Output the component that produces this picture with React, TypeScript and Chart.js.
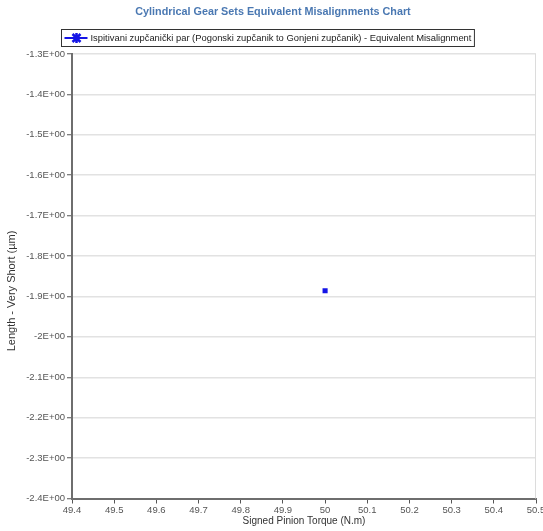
import React, { useEffect, useRef } from "react";
import { Chart, registerables } from "chart.js";

Chart.register(...registerables);

const chartTitle = "Cylindrical Gear Sets Equivalent Misalignments Chart";
const seriesLabel =
  "Ispitivani zupčanički par (Pogonski zupčanik to Gonjeni zupčanik) - Equivalent Misalignment";
const xAxisTitle = "Signed Pinion Torque (N.m)";
const yAxisTitle = "Length - Very Short (µm)";

const seriesX = [50.0];
const seriesY = [-1.886];

const xTickValues = [49.4, 49.5, 49.6, 49.7, 49.8, 49.9, 50.0, 50.1, 50.2, 50.3, 50.4, 50.5];
const xTickLabels = ["49.4", "49.5", "49.6", "49.7", "49.8", "49.9", "50", "50.1", "50.2", "50.3", "50.4", "50.5"];
const yTickValues = [-1.3, -1.4, -1.5, -1.6, -1.7, -1.8, -1.9, -2.0, -2.1, -2.2, -2.3, -2.4];
const yTickLabels = [
  "-1.3E+00", "-1.4E+00", "-1.5E+00", "-1.6E+00", "-1.7E+00", "-1.8E+00",
  "-1.9E+00", "-2E+00", "-2.1E+00", "-2.2E+00", "-2.3E+00", "-2.4E+00",
];

const FONT = "'Liberation Sans', Arial, sans-serif";
const BLUE = "#1414e6";

function labelFor(values: number[], labels: string[], v: number) {
  let best = 0;
  for (let i = 0; i < values.length; i++) {
    if (Math.abs(values[i] - v) < Math.abs(values[best] - v)) best = i;
  }
  return labels[best];
}

const decorPlugin = {
  id: "decor",
  afterDraw(chart: any) {
    const ctx = chart.ctx;
    const area = chart.chartArea;
    ctx.save();
    // right border of plot area
    ctx.strokeStyle = "#dcdcdc";
    ctx.lineWidth = 1;
    ctx.beginPath();
    ctx.moveTo(Math.round(area.right) - 0.5, area.top);
    ctx.lineTo(Math.round(area.right) - 0.5, area.bottom);
    ctx.stroke();

    // title
    ctx.fillStyle = "#4a78b2";
    ctx.font = `bold 10.8px ${FONT}`;
    ctx.textAlign = "center";
    ctx.textBaseline = "middle";
    ctx.fillText(chartTitle, 273, 12);

    // y axis title
    ctx.save();
    ctx.translate(12, 291);
    ctx.rotate(-Math.PI / 2);
    ctx.fillStyle = "#333333";
    ctx.font = `11px ${FONT}`;
    ctx.textAlign = "center";
    ctx.textBaseline = "middle";
    ctx.fillText(yAxisTitle, 0, 0);
    ctx.restore();

    // legend
    ctx.font = `9.4px ${FONT}`;
    const tw = ctx.measureText(seriesLabel).width;
    const boxL = 61.5;
    const boxT = 29.5;
    const boxH = 17;
    const textX = boxL + 29;
    const boxW = textX - boxL + tw + 3;
    ctx.fillStyle = "#ffffff";
    ctx.fillRect(boxL, boxT, boxW, boxH);
    ctx.strokeStyle = "#333333";
    ctx.lineWidth = 1;
    ctx.strokeRect(boxL, boxT, boxW, boxH);
    const cy = boxT + boxH / 2;
    ctx.strokeStyle = BLUE;
    ctx.lineWidth = 2;
    ctx.beginPath();
    ctx.moveTo(boxL + 3, cy);
    ctx.lineTo(boxL + 26, cy);
    ctx.stroke();
    const mx = boxL + 15;
    ctx.lineWidth = 2.5;
    ctx.beginPath();
    ctx.moveTo(mx - 4, cy - 4);
    ctx.lineTo(mx + 4, cy + 4);
    ctx.moveTo(mx + 4, cy - 4);
    ctx.lineTo(mx - 4, cy + 4);
    ctx.moveTo(mx, cy - 5);
    ctx.lineTo(mx, cy + 5);
    ctx.stroke();
    ctx.fillStyle = "#222222";
    ctx.textAlign = "left";
    ctx.textBaseline = "middle";
    ctx.fillText(seriesLabel, textX, cy + 0.5);
    ctx.restore();
  },
};

export default function App() {
  const ref = useRef<HTMLCanvasElement | null>(null);

  useEffect(() => {
    if (!ref.current) return;
    const chart = new Chart(ref.current, {
      type: "scatter",
      data: {
        datasets: [
          {
            label: seriesLabel,
            data: seriesX.map((x, i) => ({ x, y: seriesY[i] })),
            pointStyle: "rect",
            pointRadius: 3.6,
            pointBackgroundColor: BLUE,
            pointBorderColor: BLUE,
            pointBorderWidth: 0,
            showLine: false,
          },
        ],
      },
      options: {
        animation: false,
        responsive: false,
        devicePixelRatio: 1,
        layout: { padding: { top: 54, right: 7, left: 0, bottom: 0 } },
        plugins: {
          legend: { display: false },
          title: { display: false },
          tooltip: { enabled: false },
        },
        scales: {
          x: {
            type: "linear",
            min: 49.4,
            max: 50.5,
            afterBuildTicks: (s: any) => {
              s.ticks = xTickValues.map((v) => ({ value: v }));
            },
            afterFit: (s: any) => {
              s.height = 32.5;
              s.paddingRight = 0;
              s.paddingLeft = 0;
            },
            ticks: {
              color: "#555555",
              font: { family: FONT, size: 9.5 },
              padding: 1,
              maxRotation: 0,
              autoSkip: false,
              callback: (v: any) => labelFor(xTickValues, xTickLabels, Number(v)),
            },
            grid: {
              drawOnChartArea: false,
              drawTicks: true,
              tickLength: 5,
              tickColor: "#555555",
              tickWidth: 1,
            },
            border: { color: "#6e6e6e", width: 2 },
            title: {
              display: true,
              text: xAxisTitle,
              color: "#333333",
              font: { family: FONT, size: 10 },
              padding: { top: 0, bottom: 4 },
            },
          },
          y: {
            type: "linear",
            min: -2.4,
            max: -1.3,
            afterBuildTicks: (s: any) => {
              s.ticks = yTickValues.map((v) => ({ value: v }));
            },
            afterFit: (s: any) => {
              s.width = 72;
            },
            ticks: {
              color: "#555555",
              font: { family: FONT, size: 9.5 },
              padding: 2,
              autoSkip: false,
              callback: (v: any) => labelFor(yTickValues, yTickLabels, Number(v)),
            },
            grid: {
              color: "#e2e2e2",
              lineWidth: 1.5,
              drawTicks: true,
              tickLength: 5,
              tickColor: "#555555",
              tickWidth: 1,
            },
            border: { color: "#6e6e6e", width: 2 },
            title: { display: false },
          },
        },
      },
      plugins: [decorPlugin],
    });
    return () => chart.destroy();
  }, []);

  return (
    <div style={{ position: "fixed", left: 0, top: 0, width: 543, height: 531, background: "#ffffff" }}>
      <canvas ref={ref} width={543} height={531} style={{ display: "block", width: 543, height: 531 }} />
    </div>
  );
}
